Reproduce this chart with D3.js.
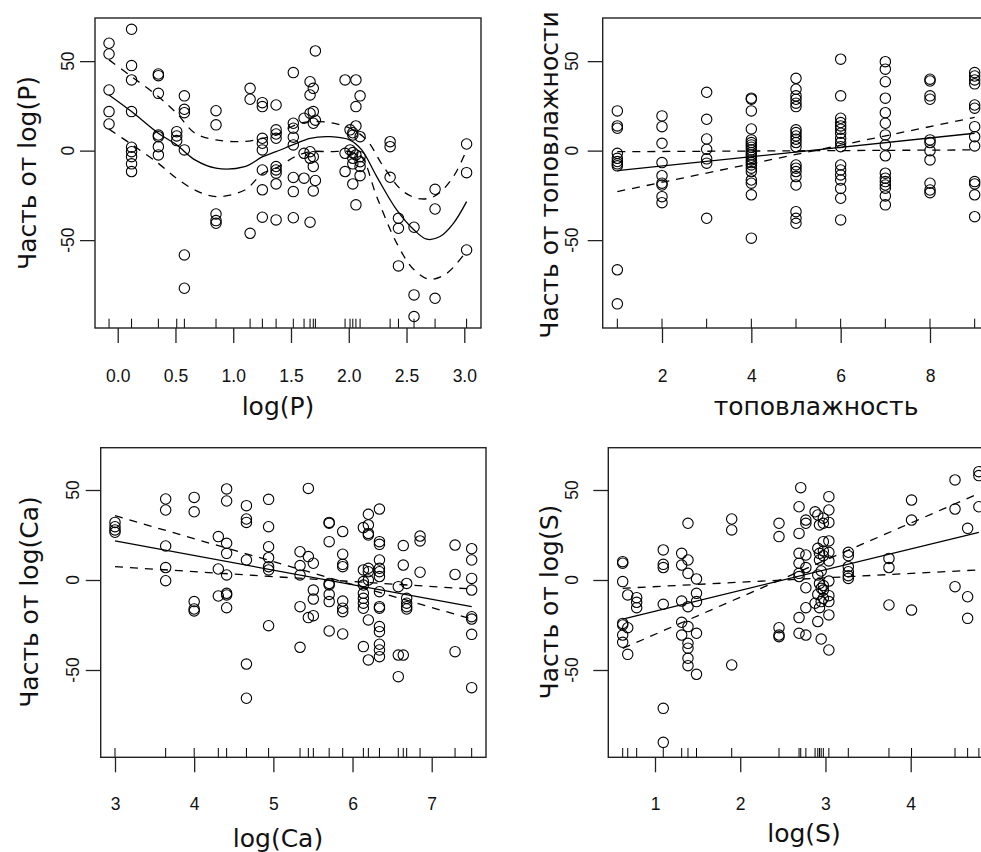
<!DOCTYPE html>
<html><head><meta charset="utf-8">
<script src="https://cdn.jsdelivr.net/npm/d3@7"></script>
<style>body{margin:0;background:#fff;overflow:hidden} svg{display:block}</style>
</head><body>
<svg id="c" width="981" height="852"></svg>
<script>
// ---------- DATA ----------
// Panel 1: partial residuals vs log(P)  [x, residual]
const residP = [
 [-0.075,60],[-0.075,54],[-0.075,33.9],[-0.075,21.8],[-0.075,14.9],
 [0.12,67.8],[0.12,47.5],[0.12,39.5],[0.12,21.8],[0.12,1.9],[0.12,-0.6],[0.12,-3.4],[0.12,-7.4],[0.12,-11.7],
 [0.352,42.8],[0.352,41.9],[0.352,32],[0.352,8.7],[0.352,7.8],[0.352,2.2],[0.352,-2.4],
 [0.511,10.6],[0.511,8.2],[0.511,5.6],
 [0.577,30.6],[0.577,23.1],[0.577,21.2],[0.577,0.4],[0.577,-58.3],[0.577,-76.9],
 [0.851,22.3],[0.851,14.4],[0.851,-35.4],[0.851,-39.1],[0.851,-40.6],
 [1.146,34.8],[1.146,28.7],[1.146,-46.2],
 [1.252,26.8],[1.252,24.6],[1.252,6.9],[1.252,4.1],[1.252,0.4],[1.252,-10.8],[1.252,-21.9],[1.252,-37.2],
 [1.371,25.5],[1.371,11.6],[1.371,9.3],[1.371,6.9],[1.371,-8.9],[1.371,-10.8],[1.371,-12.6],[1.371,-18.6],[1.371,-38.7],
 [1.52,43.6],[1.52,15.3],[1.52,12.5],[1.52,7.5],[1.52,3.2],[1.52,-15],[1.52,-22.9],[1.52,-37.5],
 [1.613,18.1],[1.613,-1.5],[1.613,-15.4],
 [1.665,38.5],[1.665,31.1],[1.665,20.9],[1.665,-0.6],[1.665,-4.3],[1.665,-40],
 [1.693,34.8],[1.693,21.8],[1.693,15.3],[1.693,-3.4],[1.693,-8.9],[1.693,-22.5],
 [1.711,55.7],[1.711,17],[1.711,-16.7],
 [1.968,39.5],[1.968,-1.5],[1.968,-11.7],
 [2.011,11.6],[2.011,0.4],
 [2.035,10],[2.035,8.7],[2.035,-1.1],[2.035,-4.3],[2.035,-7.4],[2.035,-18.6],
 [2.062,39.5],[2.062,24.6],[2.062,13.8],[2.062,-2.4],[2.062,-30.3],
 [2.098,30.6],[2.098,7.8],[2.098,-3.4],[2.098,-6.2],[2.098,-8.9],[2.098,-14],
 [2.358,5],[2.358,2.2],[2.358,-14.9],
 [2.43,-37.8],[2.43,-43.4],[2.43,-64.4],
 [2.565,-42.8],[2.565,-80.6],[2.565,-92.7],
 [2.747,-21.6],[2.747,-32.6],[2.747,-82.5],
 [3.02,3.7],[3.02,-12.3],[3.02,-55.5]
];
const fitP = [[-0.075,31.1],[0.12,21.8],[0.351,9.7],[0.51,3.2],[0.669,-5.2],[0.85,-9.8],[1.1,-8.9],[1.255,-3.4],[1.37,-0.6],[1.53,3.6],[1.665,6.9],[1.838,7.8],[2.011,5.9],[2.112,0.4],[2.242,-14.5],[2.415,-33.1],[2.565,-44.3],[2.675,-49.5],[2.79,-48],[2.906,-40.6],[3.02,-28.5]];
const upP = [[-0.075,50.7],[0.12,41.4],[0.351,30.2],[0.51,20.9],[0.669,9.7],[0.85,6],[1.1,5.1],[1.255,6.9],[1.37,8.7],[1.535,14.3],[1.665,16.2],[1.838,15.6],[2.011,12.5],[2.156,5.9],[2.3,-8.9],[2.473,-22.9],[2.63,-27],[2.76,-24.8],[2.906,-14.5],[3.02,0.4]];
const loP = [[-0.075,12],[0.12,3.5],[0.351,-7.1],[0.51,-15.5],[0.669,-22],[0.85,-25.7],[1.1,-22],[1.255,-12.7],[1.37,-9.8],[1.535,-3.4],[1.665,-0.6],[1.838,-0.6],[2.011,-0.6],[2.11,-3.4],[2.242,-25.7],[2.415,-51.7],[2.565,-66.6],[2.704,-71.9],[2.85,-68.5],[3.02,-56]];
const ticksP = [0,0.5,1,1.5,2,2.5,3];

// Panel 2: partial residuals vs топовлажность
const residT = [
 [1,22.2],[1,13.8],[1,12.5],[1,-1.5],[1,-4.3],[1,-6.1],[1,-7.4],[1,-8.5],[1,-66.6],[1,-85.6],
 [2,19.4],[2,13.4],[2,4.1],[2,-6.7],[2,-14],[2,-18.2],[2,-19.2],[2,-25.7],[2,-29.1],
 [3,32.6],[3,17.5],[3,6.5],[3,0.8],[3,-4.6],[3,-7],[3,-37.8],
 [4,29.3],[4,28.7],[4,22.2],[4,12.1],[4,6],[4,4.5],[4,3.2],[4,1.9],[4,0.4],[4,-1.1],[4,-2.4],[4,-3.7],[4,-5.2],[4,-6.7],[4,-8],[4,-9.8],[4,-11.7],[4,-16.4],[4,-18.2],[4,-24.7],[4,-48.9],
 [5,40.4],[5,34.3],[5,30.6],[5,28.7],[5,26.5],[5,24.6],[5,11.6],[5,10.1],[5,8.2],[5,6.4],[5,4.5],[5,2.2],[5,-8],[5,-9.8],[5,-11.7],[5,-14.5],[5,-19.2],[5,-34.1],[5,-37.8],[5,-40.6],
 [6,51.1],[6,30.6],[6,18.1],[6,15.7],[6,13.8],[6,12],[6,9.7],[6,6.9],[6,4.5],[6,2.2],[6,-8],[6,-10.8],[6,-13.6],[6,-16.4],[6,-21.1],[6,-26.6],[6,-38.7],
 [7,49.7],[7,45.5],[7,38.5],[7,29.3],[7,21.2],[7,15.3],[7,8.8],[7,3.2],[7,-2.9],[7,-12.6],[7,-15.4],[7,-17.3],[7,-19.2],[7,-21],[7,-25.3],[7,-30.3],
 [8,39.9],[8,38.9],[8,30.6],[8,28.7],[8,6],[8,4.5],[8,0],[8,-5.2],[8,-18.2],[8,-22],[8,-23.5],
 [9,43.6],[9,41.7],[9,39.5],[9,37.3],[9,25.5],[9,23.7],[9,13.4],[9,7.8],[9,2.6],[9,-17.3],[9,-18.6],[9,-24.7],[9,-36.9]
];
const fitT = [[1,-11.2],[9,9.7]];
const bandT1 = [[1,-0.6],[9,0.4]];
const bandT2 = [[1,-22.9],[9,18.6]];
const ticksT = [2,4,6,8];

// Panel 3: partial residuals vs log(Ca)
const residCa = [
 [3,32],[3,29.6],[3,27.8],[3,26.5],
 [3.64,45],[3.64,38.9],[3.64,18.9],[3.64,6.9],[3.64,-0.4],
 [4,45.9],[4,37.9],[4,-12],[4,-16.1],[4,-17.2],
 [4.305,24.1],[4.305,6.1],[4.305,-8.9],
 [4.41,50.6],[4.41,43.9],[4.41,20.4],[4.41,14.8],[4.41,2.8],[4.41,-7.4],[4.41,-8.3],[4.41,-15.4],
 [4.66,41.3],[4.66,33.9],[4.66,32],[4.66,11.1],[4.66,-46.7],[4.66,-65.7],
 [4.94,44.8],[4.94,29.6],[4.94,18.5],[4.94,12.4],[4.94,7.4],[4.94,5.6],[4.94,-25.4],
 [5.337,15.7],[5.337,8],[5.337,2.8],[5.337,-14.8],[5.337,-37.4],
 [5.442,50.9],[5.442,13],[5.442,-20.9],
 [5.505,9.3],[5.505,-5.6],[5.505,-10.6],[5.505,-19.8],
 [5.705,32],[5.705,31.5],[5.705,21.3],[5.705,-1.9],[5.705,-2.8],[5.705,-8],[5.705,-12],[5.705,-28.3],
 [5.876,26.9],[5.876,14.3],[5.876,8.7],[5.876,7.4],[5.876,-11.7],[5.876,-15.7],[5.876,-17.6],[5.876,-30],
 [6.137,29.1],[6.137,5.6],[6.137,-0.9],[6.137,-2.8],[6.137,-7.4],[6.137,-10.2],[6.137,-12.9],[6.137,-15.7],[6.137,-37],
 [6.2,36.5],[6.2,30.6],[6.2,25.9],[6.2,25],[6.2,6.5],[6.2,4.6],[6.2,0],[6.2,-22.2],[6.2,-44.4],
 [6.34,39.4],[6.34,21.3],[6.34,19.8],[6.34,11.1],[6.34,6.5],[6.34,4.6],[6.34,1.9],[6.34,-6.5],[6.34,-14.8],[6.34,-15.7],[6.34,-25.9],[6.34,-28.7],[6.34,-35.7],[6.34,-38.9],[6.34,-42.6],
 [6.578,-3.7],[6.578,-41.7],[6.578,-53.7],
 [6.641,19.1],[6.641,8.3],[6.641,-41.7],
 [6.684,-1.9],[6.684,-10.2],[6.684,-12.9],[6.684,-14.8],[6.684,-16.1],
 [6.853,24.4],[6.853,21.7],[6.853,4.3],
 [7.295,19.4],[7.295,3.1],[7.295,-39.8],
 [7.505,17.4],[7.505,11.1],[7.505,0.9],[7.505,-5.6],[7.505,-20.4],[7.505,-21.7],[7.505,-30.2],[7.505,-59.8]
];
const fitCa = [[3,21.7],[7.505,-14.8]];
const bandCa1 = [[3,35.7],[7.505,-21.7]];
const bandCa2 = [[3,7.4],[7.505,-5]];
const ticksCa = [3,4,5,6,7];

// Panel 4: partial residuals vs log(S)
const residS = [
 [0.621,10.2],[0.621,9.3],[0.621,-0.9],[0.621,-24.1],[0.621,-25],[0.621,-30.6],[0.621,-34.6],
 [0.68,-8.3],[0.68,-26.5],[0.68,-41.3],
 [0.785,-9.8],[0.785,-12.4],[0.785,-15.4],
 [1.097,16.7],[1.097,8.7],[1.097,6.9],[1.097,-13.5],[1.097,-71.3],[1.097,-90.2],
 [1.313,14.8],[1.313,8.3],[1.313,-11.7],[1.313,-23.5],[1.313,-30.6],
 [1.387,31.5],[1.387,11.1],[1.387,3.7],[1.387,-14.8],[1.387,-25.9],[1.387,-35.2],[1.387,-37.9],[1.387,-43.5],[1.387,-47.6],
 [1.487,0.6],[1.487,-7.4],[1.487,-12],[1.487,-29.6],[1.487,-52.4],
 [1.9,33.9],[1.9,27.8],[1.9,-47.2],
 [2.455,31.5],[2.455,24.1],[2.455,-26.5],[2.455,-30.6],[2.455,-31.5],
 [2.69,40.7],[2.69,25.9],[2.69,14.8],[2.69,9.3],[2.69,3.7],[2.69,1.9],[2.69,-20.9],[2.69,-29.6],
 [2.71,51.3],
 [2.77,33.3],[2.77,31.5],[2.77,13.9],[2.77,6.9],[2.77,-4.3],[2.77,-15.4],[2.77,-30.6],
 [2.878,37.9],[2.878,-12.9],
 [2.91,36.1],[2.91,17.6],[2.91,2.8],[2.91,-8],[2.91,-23.1],
 [2.93,30.6],[2.93,14.8],[2.93,11.1],[2.93,-1.9],[2.93,-15.4],
 [2.95,5],[2.95,-4.6],[2.95,-12],[2.95,-32.8],
 [2.975,34.3],[2.975,31.5],[2.975,21.3],[2.975,16.1],[2.975,13.5],[2.975,-3.1],[2.975,-5.6],[2.975,-10.2],
 [3.04,46.3],[3.04,38.9],[3.04,32],[3.04,21.7],[3.04,15.4],[3.04,10.6],[3.04,-0.6],[3.04,-8.7],[3.04,-12],[3.04,-19.4],[3.04,-38.9],
 [3.268,15.4],[3.268,13.5],[3.268,7.4],[3.268,4.6],[3.268,2.4],[3.268,0.9],
 [3.745,12],[3.745,6.9],[3.745,-13.9],
 [4.01,44.4],[4.01,33.3],[4.01,-16.7],
 [4.52,55.6],[4.52,39.4],[4.52,-3.7],
 [4.668,28.7],[4.668,-9.3],[4.668,-21.3],
 [4.8,60.2],[4.8,58],[4.8,40.7]
];
const fitS = [[0.621,-21.7],[4.8,26.5]];
const bandS1 = [[0.621,-4.6],[4.8,5.6]];
const bandS2 = [[0.621,-38],[4.8,48.1]];
const ticksS = [1,2,3,4];
const yTicks = [-50,0,50];

// ---------- DRAW ----------
const svg = d3.select("#c");
const panels = [
 {pts:residP, lines:[[fitP,false],[upP,true],[loP,true]], smooth:true, xt:ticksP, fmt:d3.format(".1f"),
  box:{l:95,r:481,t:18,b:328}, xd:[-0.1965,3.1446], yd:[-99.1,74.1],
  xlab:"log(P)", xlabX:278, xlabY:415, xtY:381.5, ylab:"Часть от log(P)", ylabX:36, ylabY:173, ytX:74},
 {pts:residT, lines:[[fitT,false],[bandT1,true],[bandT2,true]], smooth:false, xt:ticksT, fmt:d3.format("d"),
  box:{l:602.7,r:988.7,t:18,b:328}, xd:[0.6724,9.314], yd:[-99.1,74.1],
  xlab:"топовлажность", xlabX:816, xlabY:415, xtY:381.5, ylab:"Часть от топовлажности", ylabX:558, ylabY:175, ytX:578},
 {pts:residCa, lines:[[fitCa,false],[bandCa1,true],[bandCa2,true]], smooth:false, xt:ticksCa, fmt:d3.format("d"),
  box:{l:100.7,r:486,t:447.7,b:757.3}, xd:[2.8194,7.6858], yd:[-98.5,73.5],
  xlab:"log(Ca)", xlabX:278, xlabY:847, xtY:810, ylab:"Часть от log(Ca)", ylabX:38, ylabY:602, ytX:79},
 {pts:residS, lines:[[fitS,false],[bandS1,true],[bandS2,true]], smooth:false, xt:ticksS, fmt:d3.format("d"),
  box:{l:608.3,r:993.6,t:447.7,b:757.3}, xd:[0.4521,4.9727], yd:[-98.5,73.5],
  xlab:"log(S)", xlabX:804, xlabY:842, xtY:810, ylab:"Часть от log(S)", ylabX:558, ylabY:602, ytX:578}
];

const tickFont = "'Liberation Sans', Arial, sans-serif";
const labFont = "'DejaVu Sans', sans-serif";

panels.forEach(p => {
  const b = p.box;
  const x = d3.scaleLinear().domain(p.xd).range([b.l, b.r]);
  const y = d3.scaleLinear().domain(p.yd).range([b.b, b.t]);
  const g = svg.append("g");

  // rug
  const ux = Array.from(new Set(p.pts.map(d => d[0])));
  g.selectAll(".rug").data(ux).join("line")
    .attr("x1", d => x(d)).attr("x2", d => x(d))
    .attr("y1", b.b).attr("y2", b.b - 9.3)
    .attr("stroke", "#000").attr("stroke-width", 1);

  // lines
  p.lines.forEach(([arr, dashed]) => {
    const ln = d3.line().x(d => x(d[0])).y(d => y(d[1]));
    if (p.smooth) ln.curve(d3.curveCatmullRom.alpha(0.5));
    g.append("path").attr("d", ln(arr)).attr("fill", "none")
      .attr("stroke", "#000").attr("stroke-width", 1.3)
      .attr("stroke-dasharray", dashed ? "8,7" : null);
  });

  // points
  g.selectAll("circle").data(p.pts).join("circle")
    .attr("cx", d => x(d[0])).attr("cy", d => y(d[1])).attr("r", 5.2)
    .attr("fill", "none").attr("stroke", "#000").attr("stroke-width", 1.1);

  // box
  g.append("rect").attr("x", b.l).attr("y", b.t).attr("width", b.r - b.l).attr("height", b.b - b.t)
    .attr("fill", "none").attr("stroke", "#222").attr("stroke-width", 1.4);

  // x axis
  const xa = d3.axisBottom(x).tickValues(p.xt).tickFormat(p.fmt).tickSize(15).tickPadding(26);
  const xg = g.append("g").attr("transform", `translate(0,${b.b})`).call(xa);
  xg.select(".domain").remove();
  xg.selectAll(".tick line").attr("stroke", "#222").attr("stroke-width", 1.3);
  xg.selectAll(".tick text").attr("font-family", tickFont).attr("font-size", 17.5).attr("fill", "#111")
    .attr("dy", null).attr("y", p.xtY - b.b);

  // y axis
  const ya = d3.axisLeft(y).tickValues(yTicks).tickSize(15).tickFormat("");
  const yg = g.append("g").attr("transform", `translate(${b.l},0)`).call(ya);
  yg.select(".domain").remove();
  yg.selectAll(".tick line").attr("stroke", "#222").attr("stroke-width", 1.3);
  g.selectAll(".ytl").data(yTicks).join("text")
    .attr("transform", d => `translate(${p.ytX},${y(d)}) rotate(-90)`)
    .attr("text-anchor", "middle").attr("font-family", tickFont).attr("font-size", 17.5).attr("fill", "#111")
    .text(d => d === 0 ? "0" : (d < 0 ? "-" + Math.abs(d) : d));

  // titles
  g.append("text").attr("x", p.xlabX).attr("y", p.xlabY).attr("text-anchor", "middle")
    .attr("font-family", labFont).attr("font-size", 25).attr("fill", "#111").text(p.xlab);
  g.append("text").attr("transform", `translate(${p.ylabX},${p.ylabY}) rotate(-90)`).attr("text-anchor", "middle")
    .attr("font-family", labFont).attr("font-size", 25).attr("fill", "#111").text(p.ylab);
});
</script>
</body></html>
